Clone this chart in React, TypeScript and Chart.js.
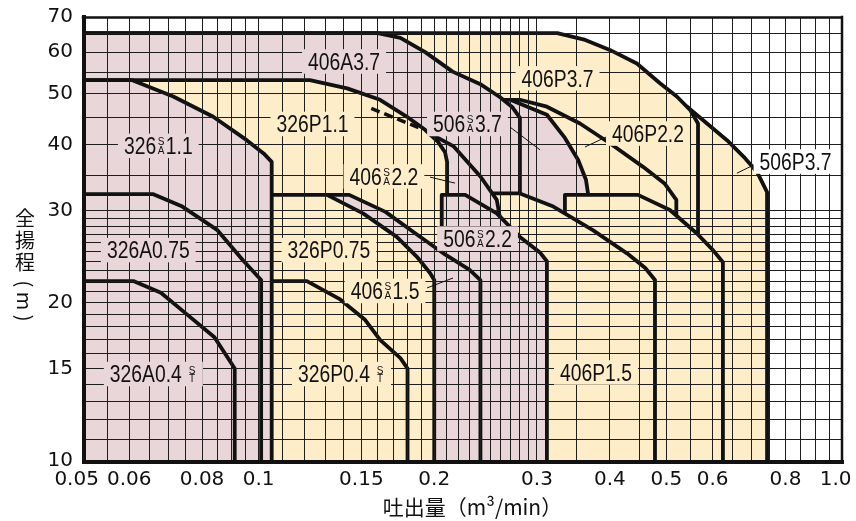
import React, { useEffect, useRef } from 'react';
import { Chart, registerables } from 'chart.js';

Chart.register(...registerables);

const PINK = '#e8d6d9';
const CREAM = '#feedc9';
const INK = '#111111';
const GRID = '#1e1e1e';

// ---- axes ----
const xTickValues = [0.05, 0.06, 0.08, 0.1, 0.15, 0.2, 0.3, 0.4, 0.5, 0.6, 0.8, 1.0];
const xTickLabels = ['0.05  ', '0.06', '0.08', '0.1', '0.15', '0.2', '0.3', '0.4', '0.5', '0.6', '0.8', '1.0  '];
const yTickValues = [10, 15, 20, 30, 40, 50, 60, 70];
const yTickLabels = ['10', '15', '20', '30', '40', '50', '60', '70'];
const xGridValues = [
  0.05, 0.055, 0.06, 0.065, 0.07, 0.075, 0.08, 0.085, 0.09, 0.095,
  0.1, 0.11, 0.12, 0.13, 0.14, 0.15, 0.16, 0.17, 0.18, 0.19,
  0.2, 0.21, 0.22, 0.23, 0.24, 0.25, 0.26, 0.27, 0.28, 0.29,
  0.3, 0.35, 0.4, 0.45, 0.5, 0.55, 0.6, 0.65, 0.7, 0.75, 0.8, 0.85, 0.9, 0.95, 1.0,
];
const yGridValues = [
  10, 11, 12, 13, 14, 15, 16, 17, 18, 19, 20, 21, 22, 23, 24, 25, 26, 27, 28, 29, 30,
  35, 40, 45, 50, 55, 60, 65, 70,
];
const xTitle = '吐出量（m³/min）';
const yTitleChars = ['全', '揚', '程'];
const yTitleUnit = '( m )';

// ---- model envelopes: Q (m3/min), H (m) ----
const q506P37 = [0.05, 0.5425, 0.587, 0.635, 0.682, 0.715, 0.744, 0.744];
const h506P37 = [47.25, 47.25, 43.9, 40.8, 37.7, 35.5, 32.5, 10];
const q406P37 = [0.05, 0.325, 0.363, 0.4, 0.445, 0.4875, 0.521, 0.549, 0.5665, 0.5665];
const h406P37 = [65.2, 65.2, 63.3, 60.6, 57.1, 52.35, 49.4, 46.6, 43.9, 10];
const q406P22 = [0.05, 0.2805, 0.312, 0.3555, 0.4, 0.456, 0.497, 0.52, 0.52];
const h406P22 = [48.7, 48.7, 47.25, 43.9, 40.25, 36.3, 33.7, 31.4, 10];
const q506SA37 = [0.05, 0.27, 0.312, 0.335, 0.353, 0.364, 0.367, 0.367];
const h506SA37 = [48.7, 48.7, 45.6, 41.2, 37.4, 34.3, 32.3, 10];
const q506P22 = [0.335, 0.335, 0.447, 0.507, 0.564, 0.601, 0.625, 0.625];
const h506P22 = [28.5, 32.1, 32.1, 30.05, 27.1, 25.2, 23.9, 10];
const q406A37 = [0.05, 0.16, 0.175, 0.193, 0.215, 0.2395, 0.259, 0.272, 0.2805, 0.2805];
const h406A37 = [65.2, 65.2, 63.9, 60, 55.1, 52.2, 49.3, 47.2, 45, 10];
const q406P15 = [0.05, 0.2805, 0.32, 0.374, 0.428, 0.46, 0.478, 0.478];
const h406P15 = [32.3, 32.3, 30.5, 27.5, 24.85, 23.3, 22.1, 10];
const q406SA22 = [0.05, 0.156, 0.189, 0.216, 0.24, 0.256, 0.259, 0.259];
const h406SA22 = [46.9, 46.9, 43, 39.7, 34.8, 31.4, 29.2, 10];
const q326P11 = [0.05, 0.1224, 0.1418, 0.1615, 0.1796, 0.1929, 0.203, 0.2087, 0.2104, 0.2104];
const h326P11 = [53.1, 53.1, 51.2, 48.7, 45.2, 42.7, 40.5, 38.7, 37.1, 10];
const q406SA22Hidden = [0.156, 0.189];
const h406SA22Hidden = [46.9, 43];
const q506SA22 = [0.206, 0.206, 0.226, 0.256, 0.2805, 0.304, 0.312, 0.312];
const h506SA22 = [23.6, 32.1, 32.1, 29.6, 26.7, 24.9, 24, 10];
const q406SA15 = [0.05, 0.143, 0.165, 0.185, 0.209, 0.23, 0.24, 0.24];
const h406SA15 = [32.1, 32.1, 29.8, 27.2, 24.7, 23.1, 22.1, 10];
const q326P075 = [0.05, 0.131, 0.151, 0.1725, 0.1866, 0.1967, 0.2, 0.2];
const h326P075 = [32.1, 32.1, 29.6, 26.7, 24.5, 22.8, 22.1, 10];
const q326P04 = [0.05, 0.121, 0.138, 0.152, 0.1615, 0.175, 0.18, 0.18];
const h326P04 = [22, 22, 20.3, 18.6, 17, 15.7, 15, 10];
const q326SA11 = [0.05, 0.0606, 0.0714, 0.0836, 0.0954, 0.102, 0.1053, 0.1053];
const h326SA11 = [53.1, 53.1, 49.4, 45.2, 40.8, 38.5, 37.1, 10];
const q326A075 = [0.05, 0.066, 0.074, 0.085, 0.094, 0.101, 0.101];
const h326A075 = [32.2, 32.2, 30.5, 27.5, 24.1, 22.1, 10];
const q326A04 = [0.05, 0.061, 0.068, 0.075, 0.084, 0.091, 0.091];
const h326A04 = [22, 22, 20.9, 19.1, 17.2, 15, 10];

// ---- label leader lines ----
const qLead506SA37 = [0.2698, 0.3037];
const hLead506SA37 = [43.2, 39.1];
const qLead406P22 = [0.4002, 0.3626];
const hLead406P22 = [41.7, 39.6];
const qLead506P37 = [0.7235, 0.6605];
const hLead506P37 = [37.1, 35.3];
const qLead406SA22 = [0.1967, 0.2171];
const hLead406SA22 = [34.7, 33.8];
const qLead406SA15 = [0.1944, 0.2154];
const hLead406SA15 = [21.35, 22.3];

type Lbl = { pre: string; sup?: string; sub?: string; post?: string; q: number; h: number; bg: string };
const LABELS: Lbl[] = [
  { pre: '406A3.7', q: 0.1401, h: 57.6, bg: PINK },
  { pre: '326', sup: 'S', sub: 'A', post: '1.1', q: 0.0673, h: 39.8, bg: PINK },
  { pre: '326P1.1', q: 0.1237, h: 43.8, bg: CREAM },
  { pre: '506', sup: 'S', sub: 'A', post: '3.7', q: 0.228, h: 43.8, bg: PINK },
  { pre: '406P3.7', q: 0.3254, h: 53.5, bg: CREAM },
  { pre: '406P2.2', q: 0.465, h: 42.0, bg: CREAM },
  { pre: '506P3.7', q: 0.8325, h: 37.15, bg: '#ffffff' },
  { pre: '406', sup: 'S', sub: 'A', post: '2.2', q: 0.164, h: 34.8, bg: CREAM },
  { pre: '506', sup: 'S', sub: 'A', post: '2.2', q: 0.2373, h: 26.5, bg: PINK },
  { pre: '326A0.75', q: 0.0647, h: 25.2, bg: PINK },
  { pre: '326P0.75', q: 0.132, h: 25.2, bg: CREAM },
  { pre: '406', sup: 'S', sub: 'A', post: '1.5', q: 0.1647, h: 21.07, bg: CREAM },
  { pre: '326A0.4 ', sup: 'S', sub: 'T', post: '', q: 0.066, h: 14.64, bg: PINK },
  { pre: '326P0.4 ', sup: 'S', sub: 'T', post: '', q: 0.1387, h: 14.64, bg: CREAM },
  { pre: '406P1.5', q: 0.3787, h: 14.74, bg: CREAM },
];

// bottom -> top drawing order
const LAYERS = [
  { q: q506P37, h: h506P37, color: CREAM },
  { q: q406P37, h: h406P37, color: CREAM },
  { q: q406P22, h: h406P22, color: CREAM },
  { q: q506SA37, h: h506SA37, color: PINK },
  { q: q506P22, h: h506P22, color: CREAM },
  { q: q406A37, h: h406A37, color: PINK },
  { q: q406P15, h: h406P15, color: CREAM },
  { q: q406SA22, h: h406SA22, color: PINK },
  { q: q326P11, h: h326P11, color: CREAM },
  { q: q506SA22, h: h506SA22, color: PINK },
  { q: q406SA15, h: h406SA15, color: PINK },
  { q: q326P075, h: h326P075, color: CREAM },
  { q: q326P04, h: h326P04, color: CREAM },
  { q: q326SA11, h: h326SA11, color: PINK },
  { q: q326A075, h: h326A075, color: PINK },
  { q: q326A04, h: h326A04, color: PINK },
] as any[];

// drawn above the grid
const OVERLINES = [
  { q: q406SA22Hidden, h: h406SA22Hidden, dash: [9, 5] },
  { q: qLead506SA37, h: hLead506SA37, thin: true },
  { q: qLead406P22, h: hLead406P22, thin: true },
  { q: qLead506P37, h: hLead506P37, thin: true },
  { q: qLead406SA22, h: hLead406SA22, thin: true },
  { q: qLead406SA15, h: hLead406SA15, thin: true },
] as any[];

const labelFor = (v: number, vals: number[], labs: string[]) => {
  const i = vals.findIndex((t) => Math.abs(t - v) < 1e-9);
  return i >= 0 ? labs[i] : '';
};

const LFONT = '"Liberation Sans", Arial, sans-serif';

function drawLabel(ctx: CanvasRenderingContext2D, lb: Lbl, cx: number, cy: number) {
  const SX = 0.84;
  const CAP = 16.5;
  const big = `23px ${LFONT}`;
  const small = `10px ${LFONT}`;
  ctx.font = big;
  const wPre = ctx.measureText(lb.pre).width * SX;
  const wPost = lb.post ? ctx.measureText(lb.post).width * SX : 0;
  let wSmall = 0;
  if (lb.sup) {
    ctx.font = small;
    wSmall = Math.max(ctx.measureText(lb.sup).width, ctx.measureText(lb.sub || '').width) + 3;
  }
  const total = wPre + wSmall + wPost;
  const padX = 6;
  const padY = 4;
  ctx.fillStyle = lb.bg;
  ctx.fillRect(cx - total / 2 - padX, cy - CAP / 2 - padY, total + 2 * padX, CAP + 2 * padY);
  ctx.fillStyle = INK;
  ctx.textBaseline = 'alphabetic';
  ctx.textAlign = 'left';
  const base = cy + CAP / 2;
  let x = cx - total / 2;
  ctx.font = big;
  ctx.save();
  ctx.translate(x, base);
  ctx.scale(SX, 1);
  ctx.fillText(lb.pre, 0, 0);
  ctx.restore();
  x += wPre;
  if (lb.sup) {
    ctx.font = small;
    ctx.textAlign = 'center';
    ctx.fillText(lb.sup, x + wSmall / 2, cy - 0.5);
    ctx.fillText(lb.sub || '', x + wSmall / 2, base);
    ctx.textAlign = 'left';
    x += wSmall;
  }
  if (lb.post) {
    ctx.font = big;
    ctx.save();
    ctx.translate(x, base);
    ctx.scale(SX, 1);
    ctx.fillText(lb.post, 0, 0);
    ctx.restore();
  }
}

const overlay = {
  id: 'overlay',
  afterDraw(chart: any) {
    const { ctx, chartArea: a, scales } = chart;
    const xs = scales.x;
    const ys = scales.y;
    ctx.save();
    ctx.beginPath();
    ctx.rect(a.left, a.top, a.right - a.left, a.bottom - a.top);
    ctx.clip();
    for (const L of OVERLINES) {
      ctx.strokeStyle = INK;
      ctx.lineWidth = L.thin ? 1 : 3.5;
      ctx.setLineDash(L.dash || []);
      ctx.beginPath();
      L.q.forEach((q: number, k: number) => {
        const px = xs.getPixelForValue(q);
        const py = ys.getPixelForValue(L.h[k]);
        if (k === 0) ctx.moveTo(px, py);
        else ctx.lineTo(px, py);
      });
      ctx.stroke();
    }
    ctx.setLineDash([]);
    ctx.restore();
    ctx.save();
    // frame
    ctx.strokeStyle = INK;
    ctx.lineCap = 'square';
    ctx.lineWidth = 2.5;
    ctx.beginPath();
    ctx.moveTo(a.left, a.top + 0.5);
    ctx.lineTo(a.right, a.top + 0.5);
    ctx.moveTo(a.right, a.top);
    ctx.lineTo(a.right, a.bottom);
    ctx.stroke();
    ctx.lineWidth = 4;
    ctx.beginPath();
    ctx.moveTo(a.left + 1, a.top);
    ctx.lineTo(a.left + 1, a.bottom + 1);
    ctx.lineTo(a.right, a.bottom + 1);
    ctx.stroke();
    // labels
    for (const lb of LABELS) {
      drawLabel(ctx, lb, xs.getPixelForValue(lb.q), ys.getPixelForValue(lb.h));
    }
    // titles
    ctx.fillStyle = INK;
    ctx.font = '21px "Noto Sans CJK JP", sans-serif';
    ctx.textAlign = 'center';
    ctx.textBaseline = 'middle';
    ctx.fillText(xTitle, (a.left + a.right) / 2 + 10, 507);
    ctx.font = '20px "Noto Sans CJK JP", sans-serif';
    const tx = 25;
    yTitleChars.forEach((c, i) => ctx.fillText(c, tx, 218 + i * 22));
    ctx.translate(tx, 301);
    ctx.rotate(Math.PI / 2);
    ctx.fillText(yTitleUnit, 0, 0);
    ctx.restore();
  },
};

export default function App() {
  const ref = useRef<HTMLCanvasElement | null>(null);
  useEffect(() => {
    if (!ref.current) return;
    const n = LAYERS.length;
    const datasets = LAYERS.map((L, i) => ({
      data: L.q.map((q: number, k: number) => ({ x: q, y: L.h[k] })),
      fill: 'start',
      backgroundColor: L.color,
      borderColor: INK,
      borderWidth: 3.8,
      borderJoinStyle: 'round',
      pointRadius: 0,
      tension: 0,
      order: n - i,
    }));
    const chart = new Chart(ref.current, {
      type: 'line',
      data: { datasets } as any,
      options: {
        animation: false,
        responsive: false,
        devicePixelRatio: 1,
        events: [],
        layout: { padding: { left: 0, right: 14, top: 17, bottom: 0 } },
        plugins: { legend: { display: false }, tooltip: { enabled: false } },
        scales: {
          x: {
            type: 'logarithmic',
            min: 0.05,
            max: 1.0,
            afterBuildTicks: (s: any) => {
              s.ticks = xGridValues.map((v) => ({ value: v }));
            },
            afterFit: (s: any) => {
              s.height = 60;
              s.paddingLeft = 0;
              s.paddingRight = 0;
            },
            grid: { color: GRID, lineWidth: 1, drawTicks: false, z: 1 },
            border: { display: false },
            ticks: {
              autoSkip: false,
              maxRotation: 0,
              minRotation: 0,
              padding: 7,
              color: INK,
              z: 1,
              font: { family: 'DejaVu Sans', size: 20 },
              callback: (v: any) => labelFor(Number(v), xTickValues, xTickLabels),
            },
          },
          y: {
            type: 'logarithmic',
            min: 10,
            max: 70,
            afterBuildTicks: (s: any) => {
              s.ticks = yGridValues.map((v) => ({ value: v }));
            },
            afterFit: (s: any) => {
              s.width = 83;
              s.paddingTop = 0;
              s.paddingBottom = 0;
            },
            grid: { color: GRID, lineWidth: 1, drawTicks: false, z: 1 },
            border: { display: false },
            ticks: {
              autoSkip: false,
              padding: 10,
              color: INK,
              z: 1,
              font: { family: 'DejaVu Sans', size: 20 },
              callback: (v: any) => labelFor(Number(v), yTickValues, yTickLabels),
            },
          },
        },
      } as any,
      plugins: [overlay],
    });
    return () => chart.destroy();
  }, []);
  return (
    <div style={{ position: 'absolute', left: 0, top: 0, width: 856, height: 521, background: '#fff' }}>
      <canvas ref={ref} width={856} height={521} style={{ display: 'block' }} />
    </div>
  );
}
